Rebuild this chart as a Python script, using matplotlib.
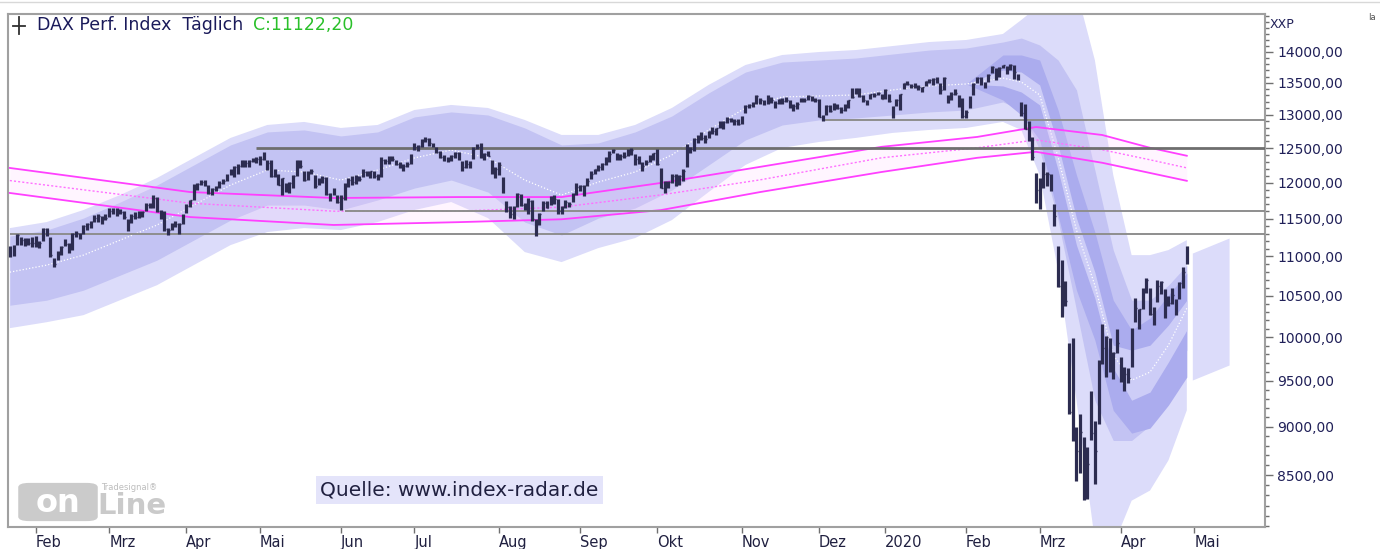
import numpy as np
import pandas as pd
import matplotlib
matplotlib.use('Agg')
import matplotlib.pyplot as plt
from matplotlib.ticker import FixedLocator, FuncFormatter, NullFormatter
from matplotlib.patches import FancyBboxPatch
from matplotlib.lines import Line2D

# ------------------------------------------------------------------ data
start_date = '2019-01-23'
holidays = ['2019-04-19', '2019-04-22', '2019-05-01', '2019-12-24', '2019-12-25',
            '2019-12-26', '2019-12-31', '2020-01-01', '2020-04-10', '2020-04-13', '2020-05-01']

closes = [
    11071, 11130, 11282, 11210, 11219, 11181, 11173,
    11180, 11177, 11368, 11324, 11022, 10907, 11014, 11126, 11167, 11090, 11300, 11309, 11278, 11402, 11423, 11458, 11505, 11540, 11487, 11516,
    11601, 11593, 11620, 11587, 11518, 11458, 11543, 11524, 11572, 11587, 11686, 11657, 11788, 11603, 11550, 11364, 11346, 11419, 11428, 11428, 11526,
    11681, 11754, 11954, 11988, 12010, 11963, 11850, 11905, 11935, 11999, 12020, 12101, 12153, 12222, 12236, 12314, 12282, 12315, 12328, 12344,
    12346, 12413, 12286, 12093, 12180, 11974, 12060, 11876, 11992, 12100, 12310, 12239, 12041, 12143, 12169, 11952, 12011, 12071, 11837, 11837, 11902, 11727,
    11790, 11971, 12035, 12009, 12045, 12045, 12155, 12116, 12169, 12096, 12086, 12331, 12309, 12355, 12340, 12274, 12229, 12245, 12271, 12399,
    12521, 12528, 12616, 12629, 12568, 12543, 12437, 12373, 12332, 12323, 12387, 12430, 12342, 12227, 12260, 12290, 12490, 12522, 12362, 12419, 12386, 12147, 12189,
    12253, 11872, 11658, 11567, 11650, 11845, 11694, 11679, 11750, 11493, 11412, 11563, 11715, 11652, 11802, 11777, 11612, 11658, 11730, 11701, 11838, 11939,
    11953, 11910, 12025, 12126, 12192, 12226, 12268, 12359, 12410, 12469, 12380, 12389, 12390, 12457, 12468, 12342, 12307, 12234, 12289, 12381, 12428,
    12263, 11925, 12014, 12013, 12097, 11970, 12094, 12164, 12512, 12486, 12630, 12670, 12655, 12634, 12748, 12755, 12798, 12872, 12895, 12942, 12939, 12910, 12867,
    12961, 13136, 13148, 13180, 13289, 13229, 13198, 13283, 13230, 13180, 13242, 13207, 13222, 13158, 13138, 13164, 13247, 13232, 13288, 13245, 13236,
    12965, 12989, 13140, 13055, 13167, 13106, 13071, 13141, 13222, 13283, 13407, 13288, 13222, 13212, 13319, 13300, 13337, 13249,
    13386, 13219, 13127, 13227, 13321, 13495, 13483, 13452, 13456, 13432, 13430, 13526, 13549, 13556, 13516, 13389, 13577, 13205, 13324, 13345, 13158, 12982,
    13046, 13250, 13479, 13575, 13514, 13494, 13628, 13750, 13595, 13745, 13784, 13682, 13789, 13665, 13579, 13035, 12791, 12775, 12367, 11890,
    11857, 12128, 12127, 11944, 11542, 10625, 10475, 10439, 9161, 9232, 8742, 8939, 8442, 8611, 8929, 8742, 9701, 9874, 10000, 9633, 9816, 9936,
    9544, 9571, 9526, 10075, 10357, 10333, 10565, 10697, 10280, 10301, 10626, 10676, 10250, 10415, 10514, 10336, 10660, 10796, 11122,
]

highs = [
    11140, 11150, 11290, 11255, 11240, 11240, 11250,
    11270, 11200, 11380, 11370, 11260, 10980, 11070, 11140, 11230, 11180, 11310, 11340, 11310, 11420, 11440, 11470, 11550, 11560, 11540, 11560,
    11640, 11640, 11640, 11630, 11600, 11490, 11560, 11590, 11600, 11600, 11720, 11720, 11820, 11800, 11620, 11600, 11370, 11440, 11470, 11440, 11560,
    11700, 11760, 11980, 12000, 12040, 12040, 11970, 11920, 11950, 12020, 12050, 12120, 12190, 12240, 12260, 12330, 12330, 12320, 12350, 12370,
    12380, 12435, 12330, 12330, 12200, 12120, 12070, 11990, 12010, 12110, 12320, 12320, 12160, 12170, 12200, 12110, 12060, 12090, 12080, 11860, 11920, 11830,
    11820, 11990, 12060, 12090, 12110, 12100, 12200, 12170, 12170, 12160, 12120, 12370, 12340, 12390, 12380, 12330, 12300, 12270, 12300, 12410,
    12580, 12540, 12630, 12660, 12650, 12580, 12510, 12460, 12400, 12370, 12400, 12440, 12440, 12310, 12330, 12310, 12520, 12560, 12580, 12430, 12460, 12330, 12230,
    12290, 12080, 11740, 11670, 11680, 11860, 11840, 11710, 11790, 11760, 11500, 11580, 11750, 11740, 11810, 11820, 11770, 11670, 11760, 11730, 11850, 11990,
    11970, 11960, 12060, 12170, 12200, 12250, 12280, 12370, 12460, 12490, 12430, 12410, 12440, 12480, 12500, 12410, 12380, 12300, 12320, 12400, 12430,
    12490, 12210, 12020, 12030, 12130, 12120, 12110, 12190, 12560, 12520, 12650, 12690, 12740, 12690, 12760, 12810, 12800, 12900, 12900, 12960, 12950, 12930, 12930,
    12980, 13150, 13170, 13190, 13300, 13260, 13230, 13300, 13270, 13220, 13250, 13260, 13280, 13230, 13170, 13200, 13260, 13260, 13300, 13290, 13260,
    13250, 13000, 13150, 13150, 13180, 13170, 13120, 13160, 13230, 13410, 13420, 13410, 13300, 13230, 13330, 13340, 13360, 13330,
    13400, 13330, 13130, 13250, 13330, 13500, 13530, 13480, 13500, 13470, 13440, 13530, 13560, 13580, 13600, 13500, 13590, 13300, 13350, 13400, 13300, 13260,
    13080, 13290, 13500, 13600, 13590, 13510, 13640, 13770, 13730, 13750, 13790, 13770, 13795, 13780, 13640, 13190, 13160, 12900, 12660, 12140,
    12060, 12290, 12150, 12120, 11700, 11140, 10960, 10690, 9930, 9990, 9000, 9140, 8890, 8790, 9390, 9060, 9740, 10160, 10020, 9990, 9830, 10100,
    9770, 9650, 9640, 10110, 10480, 10340, 10600, 10730, 10600, 10360, 10700, 10690, 10580, 10500, 10600, 10460, 10670, 10860, 11130,
]

lows = [
    10990, 11000, 11150, 11150, 11130, 11150, 11120,
    11120, 11110, 11200, 11270, 10990, 10864, 10950, 11020, 11140, 11050, 11080, 11260, 11230, 11300, 11350, 11380, 11460, 11460, 11430, 11480,
    11530, 11560, 11540, 11560, 11490, 11330, 11440, 11500, 11510, 11530, 11600, 11640, 11650, 11590, 11500, 11340, 11280, 11350, 11390, 11300, 11430,
    11580, 11660, 11760, 11900, 11960, 11950, 11840, 11830, 11880, 11930, 11980, 12020, 12110, 12080, 12130, 12220, 12230, 12230, 12290, 12280,
    12250, 12330, 12180, 12080, 12080, 11960, 11830, 11870, 11850, 11920, 12100, 12210, 12030, 12040, 12120, 11930, 11970, 12000, 11830, 11740, 11830, 11720,
    11620, 11760, 11940, 11960, 11980, 12020, 12080, 12090, 12070, 12070, 12040, 12080, 12260, 12270, 12310, 12250, 12210, 12160, 12220, 12260,
    12470, 12460, 12520, 12590, 12530, 12520, 12420, 12350, 12310, 12300, 12310, 12350, 12330, 12160, 12210, 12210, 12340, 12480, 12350, 12330, 12380, 12130, 12070,
    12110, 11860, 11590, 11510, 11500, 11660, 11670, 11620, 11560, 11470, 11266, 11420, 11600, 11640, 11690, 11700, 11560, 11560, 11640, 11660, 11730, 11830,
    11880, 11810, 11950, 12050, 12120, 12160, 12180, 12250, 12290, 12420, 12330, 12330, 12360, 12380, 12400, 12250, 12270, 12160, 12250, 12290, 12330,
    12250, 11920, 11860, 11920, 12000, 11950, 11960, 12020, 12230, 12430, 12450, 12580, 12620, 12580, 12650, 12710, 12700, 12800, 12790, 12880, 12890, 12850, 12850,
    12860, 13020, 13110, 13120, 13170, 13170, 13150, 13170, 13180, 13110, 13160, 13170, 13190, 13100, 13060, 13090, 13190, 13200, 13230, 13220, 13200,
    12960, 12900, 12990, 13040, 13070, 13090, 13020, 13060, 13110, 13260, 13330, 13280, 13200, 13150, 13250, 13280, 13300, 13240,
    13240, 13200, 12950, 13130, 13070, 13400, 13470, 13420, 13420, 13390, 13360, 13450, 13500, 13460, 13500, 13320, 13380, 13180, 13230, 13300, 13120, 12950,
    12950, 13110, 13300, 13490, 13470, 13420, 13510, 13650, 13540, 13590, 13740, 13640, 13710, 13560, 13540, 12980, 12780, 12610, 12330, 11720,
    11630, 11920, 11950, 11880, 11400, 10610, 10240, 10380, 9130, 8850, 8440, 8520, 8255, 8260, 8860, 8410, 9030, 9690, 9540, 9600, 9520, 9820,
    9490, 9390, 9470, 9650, 10180, 10100, 10340, 10530, 10260, 10140, 10430, 10520, 10230, 10380, 10400, 10270, 10460, 10600, 10900,
]

# volatility band (at sample sessions)
band_dates = ['2019-01-23', '2019-02-06', '2019-02-20', '2019-03-06', '2019-03-20', '2019-04-03',
              '2019-04-17', '2019-05-06', '2019-05-20', '2019-06-03', '2019-06-17', '2019-07-01',
              '2019-07-15', '2019-07-29', '2019-08-12', '2019-08-26', '2019-09-09', '2019-09-23',
              '2019-10-07', '2019-10-21', '2019-11-04', '2019-11-18', '2019-12-02', '2019-12-16',
              '2020-01-06', '2020-01-20', '2020-02-03', '2020-02-17', '2020-02-24', '2020-03-02',
              '2020-03-09', '2020-03-16', '2020-03-23', '2020-03-30', '2020-04-06', '2020-04-15',
              '2020-04-22', '2020-04-29']
band_outer_top = [11374, 11455, 11619, 11826, 12066, 12355, 12650, 12845, 12891, 12800, 12845, 13074,
                  13152, 13105, 12921, 12695, 12695, 12845, 13105, 13466, 13786, 13950, 13999, 14032,
                  14098, 14165, 14199, 14300, 14538, 14797, 15062, 15062, 13867, 12109, 11017, 11017,
                  11083, 11214]
band_mid_top = [11267, 11348, 11509, 11729, 11966, 12253, 12546, 12740, 12770, 12680, 12740, 12967,
                13044, 12997, 12800, 12546, 12576, 12740, 12982, 13340, 13672, 13834, 13867, 13900,
                13966, 14032, 14065, 14165, 14232, 14115, 13867, 13387, 12180, 11083, 10447, 10447,
                10633, 10888]
band_center = [10798, 10888, 11017, 11214, 11415, 11687, 11966, 12180, 12152, 12037, 12180, 12355,
               12472, 12355, 12037, 11826, 12009, 12152, 12399, 12770, 13105, 13277, 13292, 13308,
               13387, 13450, 13481, 13576, 13513, 13308, 12367, 11348, 10633, 9791, 9506, 9598,
               9907, 10349]
band_mid_low = [10385, 10447, 10571, 10760, 10952, 11214, 11482, 11687, 11687, 11619, 11757, 11924,
                12037, 11868, 11455, 11281, 11509, 11646, 11896, 12253, 12620, 12845, 12921, 12952,
                12997, 13044, 13074, 13199, 13074, 12472, 11482, 10324, 9284, 8854, 8854, 9013,
                9339, 9849]
band_outer_low = [10108, 10179, 10264, 10447, 10633, 10888, 11148, 11321, 11374, 11348, 11455, 11619,
                  11729, 11509, 11057, 10927, 11109, 11241, 11482, 11868, 12253, 12502, 12590, 12650,
                  12725, 12770, 12800, 12891, 12770, 12109, 10824, 9284, 7867, 7821, 8247, 8346,
                  8648, 9174]

# inner structure of the band during the crash (dark ring and light core)
core_dates = ['2020-02-03', '2020-02-17', '2020-02-24', '2020-03-02', '2020-03-09', '2020-03-16',
              '2020-03-23', '2020-03-30', '2020-04-06', '2020-04-15', '2020-04-22', '2020-04-29']
dark_top = [13481, 13950, 13950, 13867, 13074, 12109, 11321, 10447, 10085, 10229, 10510, 10787]
core_top = [13481, 13705, 13672, 13466, 12546, 11509, 10798, 9907, 9849, 9907, 10145, 10447]
core_low = [13481, 13450, 13354, 13152, 12180, 11148, 10473, 9643, 9284, 9374, 9712, 10085]
dark_low = [13481, 13229, 12997, 12620, 11550, 10571, 9967, 9174, 8931, 8984, 9231, 9541]

# forward projection of the band (sessions after the last bar)
proj_sessions = [1.5, 11.5]
proj_top = [11044, 11242]
proj_low = [9508, 9678]

# long-term average channel
ma_dates = ['2019-01-23', '2019-04-02', '2019-05-30', '2019-07-17', '2019-08-26', '2019-10-02',
            '2019-11-08', '2019-12-30', '2020-02-06', '2020-02-28', '2020-03-25', '2020-04-15', '2020-04-29']
ma_upper = [12210, 11868, 11785, 11798, 11798, 11996, 12226, 12518, 12665, 12814, 12694, 12504, 12387]
ma_mid = [12030, 11713, 11603, 11603, 11659, 11828, 12040, 12357, 12504, 12621, 12475, 12328, 12211]
ma_lower = [11855, 11523, 11416, 11454, 11493, 11618, 11868, 12152, 12357, 12445, 12285, 12138, 12026]

# horizontal lines: level, start date
hline_levels = [12920, 12505, 11600, 11290]
hline_starts = ['2019-12-03', '2019-04-30', '2019-06-04', '2019-01-23']
hline_widths = [1.4, 2.0, 1.4, 1.4]
hline_colors = ['#8e8e8e', '#6e6e6e', '#8e8e8e', '#8e8e8e']

month_starts = ['2019-02-01', '2019-03-01', '2019-04-01', '2019-05-02', '2019-06-03', '2019-07-01',
                '2019-08-01', '2019-09-02', '2019-10-01', '2019-11-01', '2019-12-02', '2020-01-02',
                '2020-02-03', '2020-03-02', '2020-04-01', '2020-05-04']
month_labels = ['Feb', 'Mrz', 'Apr', 'Mai', 'Jun', 'Jul', 'Aug', 'Sep', 'Okt', 'Nov', 'Dez', '2020',
                'Feb', 'Mrz', 'Apr', 'Mai']

y_ticks = [8500, 9000, 9500, 10000, 10500, 11000, 11500, 12000, 12500, 13000, 13500, 14000]
last_close_label = 'C:11122,20'

# ------------------------------------------------------------------ calendar
sessions = pd.bdate_range(start_date, '2020-06-30')
sessions = sessions[~sessions.isin(pd.to_datetime(holidays))]
pos = {d.strftime('%Y-%m-%d'): i for i, d in enumerate(sessions)}
xs = np.arange(len(closes))

# ------------------------------------------------------------------ figure
W, H = 1380, 549
fig = plt.figure(figsize=(W / 100, H / 100), dpi=100)
fig.patch.set_facecolor('white')
L, R, T, B = 8, 1265, 14, 527
ax = fig.add_axes([L / W, 1 - B / H, (R - L) / W, (B - T) / H])
ax.set_facecolor('white')
ax.set_yscale('log')
ax.set_ylim(7995, 14641)
x0 = -0.5
ax.set_xlim(x0, x0 + (R - L) / 3.678)

# bands
bp = [pos[d] for d in band_dates]
ax.fill_between(bp, band_outer_low, band_outer_top, color='#dcdcfa', lw=0, zorder=1)
ax.fill_between(bp, band_mid_low, band_mid_top, color='#c3c3f3', lw=0, zorder=2)
cp = [pos[d] for d in core_dates]
ax.fill_between(cp, dark_low, dark_top, color='#abacee', lw=0, zorder=2.5)
ax.fill_between(cp, core_low, core_top, color='#cdcdf7', lw=0, zorder=2.7)
ax.plot(bp, band_center, color='white', ls=(0, (1, 1.6)), lw=0.9, zorder=3)
last = xs[-1]
ax.fill_between([last + s for s in proj_sessions], proj_low, proj_top, color='#dcdcfa', lw=0, zorder=1)

# channel
mp = [pos[d] for d in ma_dates]
ax.fill_between(mp, ma_lower, ma_upper, color='#ffd0ff', alpha=0.2, lw=0, zorder=4)
ax.plot(mp, ma_upper, color='#ff40ff', lw=1.3, zorder=5)
ax.plot(mp, ma_lower, color='#ff40ff', lw=1.3, zorder=5)
ax.plot(mp, ma_mid, color='#ff70ff', lw=1.0, ls=(0, (1.5, 1.5)), zorder=5)

# horizontal lines
for lev, st, lw_, c in zip(hline_levels, hline_starts, hline_widths, hline_colors):
    ax.hlines(lev, pos[st], ax.get_xlim()[1], color=c, lw=lw_, zorder=6)

# OHLC bars
ax.vlines(xs, lows, highs, color='#2c2c50', lw=2.3, zorder=7)
ax.hlines(closes, xs, xs + 0.45, color='#2c2c50', lw=1.0, zorder=7)

# axes styling
for s in ax.spines.values():
    s.set_color('#a0a0a0')
    s.set_linewidth(1.5)
ax.yaxis.tick_right()
ax.yaxis.set_major_locator(FixedLocator(y_ticks))
ax.yaxis.set_major_formatter(FuncFormatter(lambda v, p: f'{v:.2f}'.replace('.', ',')))
ax.yaxis.set_minor_locator(FixedLocator([v for v in range(8000, 14700, 100) if v not in y_ticks]))
ax.yaxis.set_minor_formatter(NullFormatter())
ax.tick_params(axis='y', which='major', direction='out', length=6, width=1, color='#707070',
               labelsize=10, labelcolor='#202058', pad=3)
ax.tick_params(axis='y', which='minor', direction='out', length=3, width=1, color='#707070')

ax.xaxis.set_major_locator(FixedLocator([pos[d] for d in month_starts]))
ax.set_xticklabels(month_labels)
ax.xaxis.set_minor_locator(FixedLocator([]))
ax.tick_params(axis='x', which='major', direction='out', length=4, width=1, color='#707070',
               labelsize=10.5, labelcolor='#202040', pad=2)
for lab in ax.get_xticklabels():
    lab.set_horizontalalignment('left')

# texts
fig.text(1270 / W, 1 - 25 / H, 'XXP', fontsize=9, color='#202058', va='center', ha='left')
fig.text(1368 / W, 1 - 18 / H, 'Ia', fontsize=6, color='#505050', va='center', ha='left')
fig.text(37 / W, 1 - 25 / H, 'DAX Perf. Index  Täglich', fontsize=12.5, color='#1a1a5a',
         va='center', ha='left')
fig.text(253 / W, 1 - 25 / H, last_close_label, fontsize=12.5, color='#2ac02a', va='center', ha='left')
fig.add_artist(Line2D([19 / W, 19 / W], [1 - 17 / H, 1 - 34 / H], color='#303030', lw=1.3))
fig.add_artist(Line2D([13 / W, 25 / W], [1 - 26 / H, 1 - 26 / H], color='#303030', lw=1.3))
fig.add_artist(Line2D([0, 1], [1 - 2 / H, 1 - 2 / H], color='#d8d8d8', lw=1.0))

fig.text(320 / W, 1 - 490 / H, 'Quelle: www.index-radar.de', fontsize=14.5, color='#202040',
         va='center', ha='left',
         bbox=dict(boxstyle='square,pad=0.22', facecolor='#e4e4fa', edgecolor='none'))

# logo
fig.add_artist(FancyBboxPatch((21 / W, 1 - 520 / H), 74 / W, 36 / H,
                              boxstyle='round,pad=0.002,rounding_size=0.008',
                              facecolor='#cbcbcb', edgecolor='none', transform=fig.transFigure))
fig.text(58 / W, 1 - 503 / H, 'on', fontsize=23, fontweight='bold', color='white', va='center', ha='center')
fig.text(97 / W, 1 - 506 / H, 'Line', fontsize=21, fontweight='bold', color='#cacaca', va='center', ha='left')
fig.text(101 / W, 1 - 488 / H, 'Tradesignal®', fontsize=6, color='#bdbdbd', va='center', ha='left')

fig.savefig('out.png', dpi=100, facecolor='white')
